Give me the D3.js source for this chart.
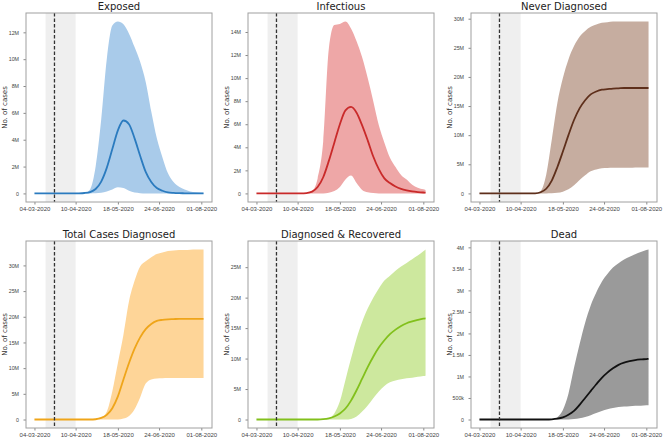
<!DOCTYPE html>
<html>
<head>
<meta charset="utf-8">
<script src="https://cdn.jsdelivr.net/npm/d3@7"></script>
<style>
  html, body { margin: 0; padding: 0; background: #fff; }
  svg { display: block; font-family: "DejaVu Sans", sans-serif; }
  .tick text { fill: #444; }
</style>
</head>
<body>
<svg id="chart" width="665" height="444"></svg>
<script>
// Simulation start and sampled days (offset from start)
const startDate = '2020-03-04';
const dayOffsets = [0, 10, 20, 30, 40, 45, 50, 55, 60, 65, 70, 75, 80, 85, 90, 95,
                    100, 105, 110, 115, 120, 125, 130, 135, 140, 145, 150, 152];
const xTickDates = ['2020-03-04', '2020-04-10', '2020-05-18', '2020-06-24', '2020-08-01'];
const lockdownDate = '2020-03-22';
const spanDates = ['2020-03-14', '2020-04-10'];

const titles = ['Exposed', 'Infectious', 'Never Diagnosed',
                'Total Cases Diagnosed', 'Diagnosed & Recovered', 'Dead'];

// values in millions
const exposedMean  = [0,0,0,0,0.01,0.03,0.1,0.33,0.88,1.9,3.3,4.7,5.43,5.15,4.1,2.8,1.6,0.85,0.4,0.2,0.08,0.04,0.02,0.01,0,0,0,0];
const exposedLow   = [0,0,0,0,0,0,0,0.01,0.05,0.15,0.3,0.45,0.4,0.2,0.06,0.02,0,0,0,0,0,0,0,0,0,0,0,0];
const exposedHigh  = [0,0,0,0,0,0.02,0.3,2.0,5.5,10.0,12.5,12.8,12.6,11.9,10.9,9.8,8.3,6.1,4.1,2.7,1.5,0.85,0.5,0.3,0.15,0.08,0.05,0.04];

const infectMean   = [0,0,0,0,0,0.03,0.15,0.55,1.4,2.8,4.4,6.0,7.2,7.5,7.0,5.9,4.6,3.2,2.1,1.3,0.9,0.6,0.4,0.27,0.18,0.12,0.08,0.07];
const infectLow    = [0,0,0,0,0,0,0,0,0,0.05,0.2,0.55,1.2,1.55,0.9,0.3,0.1,0.03,0,0,0,0,0,0,0,0,0,0];
const infectHigh   = [0,0,0,0,0,0,0.2,1.3,4.5,12.5,14.6,14.7,14.9,14.3,13.2,11.8,10.0,8.0,5.9,4.4,3.1,2.3,1.6,1.2,0.75,0.5,0.35,0.3];

const neverMean    = [0,0,0,0,0,0,0.02,0.2,0.8,2.2,4.5,7.2,10.0,12.6,14.6,16.0,17.0,17.5,17.8,17.9,18.0,18.05,18.1,18.1,18.1,18.1,18.1,18.1];
const neverLow     = [0,0,0,0,0,0,0,0,0,0.02,0.1,0.3,0.7,1.4,2.3,3.1,3.8,4.1,4.3,4.35,4.4,4.4,4.4,4.4,4.45,4.45,4.45,4.45];
const neverHigh    = [0,0,0,0,0,0,0,0.4,3.2,9.2,15.5,19.8,23.0,25.3,26.9,27.9,28.6,29.0,29.3,29.4,29.5,29.5,29.5,29.5,29.5,29.5,29.5,29.5];

const totalMean    = [0,0,0,0,0,0,0,0.05,0.3,0.9,2.2,4.5,7.8,11.0,13.8,16.0,17.6,18.6,19.2,19.4,19.5,19.55,19.6,19.6,19.6,19.6,19.6,19.6];
const totalLow     = [0,0,0,0,0,0,0,0,0,0,0,0,0.2,0.7,2.0,4.3,7.0,7.8,8.0,8.05,8.1,8.1,8.1,8.1,8.1,8.1,8.1,8.1];
const totalHigh    = [0,0,0,0,0,0,0,0,0.3,1.5,5.5,11.0,16.5,23.0,27.0,29.8,30.8,31.6,32.2,32.5,32.8,32.9,33.0,33.0,33.05,33.1,33.1,33.1];

const recovMean    = [0,0,0,0,0,0,0,0,0.05,0.2,0.5,1.0,1.8,3.1,4.8,6.7,8.6,10.3,11.8,13.0,14.0,14.75,15.35,15.8,16.1,16.35,16.55,16.6];
const recovLow     = [0,0,0,0,0,0,0,0,0,0,0,0,0,0.1,0.5,1.3,2.3,3.5,4.6,5.5,6.1,6.4,6.6,6.75,6.85,7.0,7.15,7.2];
const recovHigh    = [0,0,0,0,0,0,0,0,0,0.2,1.0,3.0,6.5,10.0,13.3,16.0,18.2,20.0,21.5,22.8,23.6,24.4,25.1,25.7,26.3,26.9,27.6,27.9];

const deadMean     = [0,0,0,0,0,0,0,0,0,0.005,0.02,0.05,0.11,0.2,0.34,0.5,0.66,0.82,0.97,1.09,1.19,1.27,1.32,1.355,1.38,1.395,1.405,1.41];
const deadLow      = [0,0,0,0,0,0,0,0,0,0,0,0,0,0.01,0.03,0.06,0.1,0.15,0.2,0.24,0.27,0.29,0.3,0.31,0.32,0.32,0.33,0.33];
const deadHigh     = [0,0,0,0,0,0,0,0,0,0,0.05,0.22,0.6,1.2,1.75,2.25,2.65,2.95,3.2,3.38,3.53,3.63,3.72,3.78,3.84,3.89,3.94,3.95];

const yTickSets = [
    [0, 2, 4, 6, 8, 10, 12],
    [0, 2, 4, 6, 8, 10, 12, 14],
    [0, 5, 10, 15, 20, 25, 30],
    [0, 5, 10, 15, 20, 25, 30],
    [0, 5, 10, 15, 20, 25],
    [0, 0.5, 1, 1.5, 2, 2.5, 3, 3.5, 4]
];

const seriesMean = [exposedMean, infectMean, neverMean, totalMean, recovMean, deadMean];
const seriesLow  = [exposedLow, infectLow, neverLow, totalLow, recovLow, deadLow];
const seriesHigh = [exposedHigh, infectHigh, neverHigh, totalHigh, recovHigh, deadHigh];

const bandColors = ['#a9cbea', '#eea7a7', '#c6ada0', '#fed598', '#cde89e', '#9a9a9a'];
const lineColors = ['#2b7bbf', '#c92a2a', '#5e2f1b', '#efa51a', '#82c01c', '#111111'];

// Layout
const colLeft = [26, 248, 471];
const rowTop = [13, 241];
const rowHeight = [189, 187];
const panelW = 186;

const parse = d3.timeParse('%Y-%m-%d');
const fmtDate = d3.timeFormat('%d-%m-%Y');
const start = parse(startDate);
const dates = dayOffsets.map(d => d3.timeDay.offset(start, d));

function fmtCases(v) {
    if (v === 0) return '0';
    if (v < 1) return Math.round(v * 1000) + 'k';
    return v + 'M';
}

const svg = d3.select('#chart');

titles.forEach((title, i) => {
    const col = i % 3, row = Math.floor(i / 3);
    const x0 = colLeft[col], y0 = rowTop[row];
    const w = panelW, h = rowHeight[row];

    const g = svg.append('g').attr('transform', `translate(${x0},${y0})`);

    // x: time with 5% margins as matplotlib
    const t0 = dates[0], t1 = dates[dates.length - 1];
    const pad = (t1 - t0) * 0.05;
    const xScale = d3.scaleTime()
        .domain([new Date(+t0 - pad), new Date(+t1 + pad)])
        .range([0, w]);

    const high = seriesHigh[i], low = seriesLow[i], mean = seriesMean[i];
    const yMax = d3.max(high);
    const yScale = d3.scaleLinear()
        .domain([-0.05 * yMax, 1.05 * yMax])
        .range([h, 0]);

    const pts = dates.map((d, k) => ({ date: d, lo: low[k], hi: high[k], m: mean[k] }));

    // grey span
    g.append('rect')
        .attr('x', xScale(parse(spanDates[0])))
        .attr('y', 0)
        .attr('width', xScale(parse(spanDates[1])) - xScale(parse(spanDates[0])))
        .attr('height', h)
        .attr('fill', '#efefef');

    // confidence band
    g.append('path')
        .datum(pts)
        .attr('fill', bandColors[i])
        .attr('d', d3.area()
            .curve(d3.curveMonotoneX)
            .x(d => xScale(d.date))
            .y0(d => yScale(d.lo))
            .y1(d => yScale(d.hi)));

    // mean line
    g.append('path')
        .datum(pts)
        .attr('fill', 'none')
        .attr('stroke', lineColors[i])
        .attr('stroke-width', 1.8)
        .attr('d', d3.line()
            .curve(d3.curveMonotoneX)
            .x(d => xScale(d.date))
            .y(d => yScale(d.m)));

    // lockdown marker
    const lx = xScale(parse(lockdownDate));
    g.append('line')
        .attr('x1', lx).attr('x2', lx)
        .attr('y1', 0).attr('y2', h)
        .attr('stroke', '#333')
        .attr('stroke-width', 1.3)
        .attr('stroke-dasharray', '3.5,2');

    // axes
    const yAxis = g.append('g')
        .call(d3.axisLeft(yScale)
            .tickValues(yTickSets[i])
            .tickSize(2.5)
            .tickPadding(4.5)
            .tickFormat(fmtCases));
    yAxis.select('.domain').remove();
    yAxis.selectAll('line').attr('stroke', '#888');
    yAxis.selectAll('text').style('font-size', '5.3px');

    const xAxis = g.append('g')
        .attr('transform', `translate(0,${h})`)
        .call(d3.axisBottom(xScale)
            .tickValues(xTickDates.map(parse))
            .tickSize(2.5)
            .tickPadding(2.5)
            .tickFormat(fmtDate));
    xAxis.select('.domain').remove();
    xAxis.selectAll('line').attr('stroke', '#888');
    xAxis.selectAll('text').style('font-size', '6px');

    // frame
    g.append('rect')
        .attr('width', w).attr('height', h)
        .attr('fill', 'none')
        .attr('stroke', '#a0a0a0')
        .attr('stroke-width', 1);

    // title
    g.append('text')
        .attr('x', w / 2)
        .attr('y', -3)
        .attr('text-anchor', 'middle')
        .style('font-size', '10px')
        .style('fill', '#222')
        .text(title);

    // y label
    g.append('text')
        .attr('transform', `translate(${-19},${h / 2}) rotate(-90)`)
        .attr('text-anchor', 'middle')
        .style('font-size', '7px')
        .style('fill', '#333')
        .text('No. of cases');
});
</script>
</body>
</html>
